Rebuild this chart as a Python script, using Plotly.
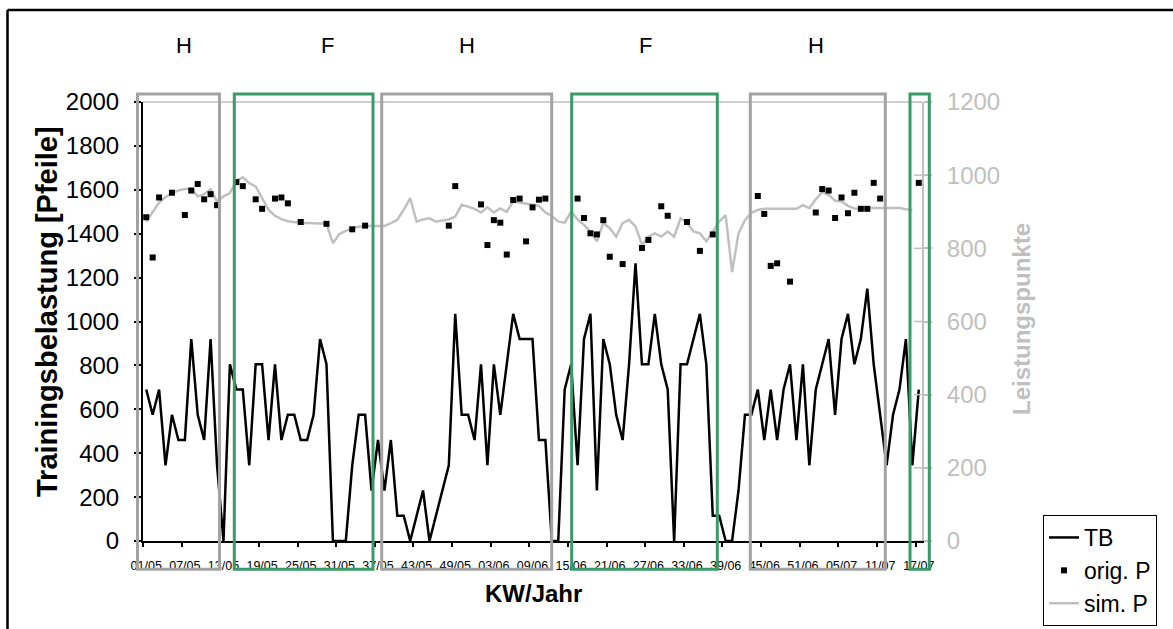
import plotly.graph_objects as go

# ---------------- data ----------------
# calendar weeks KW 01/05 ... 17/07 (121 weeks)
weeks = [f"{w:02d}/05" for w in range(1, 53)] + [f"{w:02d}/06" for w in range(1, 53)] + [f"{w:02d}/07" for w in range(1, 18)]

tick_labels = ["01/05", "07/05", "13/05", "19/05", "25/05", "31/05", "37/05", "43/05",
               "49/05", "03/06", "09/06", "15/06", "21/06", "27/06", "33/06", "39/06",
               "45/06", "51/06", "05/07", "11/07", "17/07"]

# Trainingsbelastung (TB) in Pfeile, one value per week
tb = [690, 575, 690, 345, 575, 460, 460, 920, 575, 460, 920, 345,
      0, 805, 690, 690, 345, 805, 805, 460, 805, 460, 575, 575,
      460, 460, 575, 920, 805, 0, 0, 0, 345, 575, 575, 230,
      460, 230, 460, 115, 115, 0, 115, 230, 0, 115, 230, 345,
      1035, 575, 575, 460, 805, 345, 805, 575, 805, 1035, 920, 920,
      920, 460, 460, 0, 0, 690, 805, 345, 920, 1035, 230, 920,
      805, 575, 460, 805, 1265, 805, 805, 1035, 805, 690, 0, 805,
      805, 920, 1035, 805, 115, 115, 0, 0, 230, 575, 575, 690,
      460, 690, 460, 690, 805, 460, 805, 345, 690, 805, 920, 575,
      920, 1035, 805, 920, 1150, 805, 575, 345, 575, 690, 920, 345,
      690]

# simulated performance (sim. P), Leistungspunkte
sim_p = [873, 900, 925, 940, 951, 958, 962, 962, 942, 948, 962, 928,
         942, 951, 985, 994, 978, 969, 937, 905, 889, 880, 874, 871,
         869, 869, 869, 869, 867, 814, 839, 848, 855, 859, 862, 861,
         861, 861, 869, 878, 905, 937, 873, 879, 882, 873, 876, 879,
         887, 919, 914, 908, 898, 912, 898, 909, 900, 928, 925, 922,
         919, 916, 898, 889, 873, 870, 900, 879, 864, 846, 819, 869,
         855, 832, 869, 878, 860, 810, 832, 841, 832, 846, 832, 882,
         870, 846, 841, 819, 845, 873, 891, 735, 841, 877, 897, 905,
         908, 908, 908, 908, 908, 908, 918, 910, 934, 954, 946, 930,
         928, 916, 909, 908, 910, 910, 910, 910, 910, 910, 907, 905,
         None]

# original performance (orig. P): week index and Leistungspunkte
orig_idx = [0, 1, 2, 4, 6, 7, 8, 9, 10, 11, 14, 15, 17, 18, 20, 21, 22, 24, 28, 32, 34,
            47, 48, 52, 53, 54, 55, 56, 57, 58, 59, 60, 61, 62,
            67, 68, 69, 70, 71, 72, 74, 77, 78, 80, 81, 84, 86, 88,
            95, 96, 97, 98, 100, 104, 105, 106, 107, 108, 109, 110, 111, 112, 113, 114, 120]
orig_val = [885, 775, 939, 952, 891, 958, 976, 934, 948, 918, 981, 970, 934, 908, 936, 939, 923, 872, 867, 852, 862,
            862, 970, 920, 809, 877, 870, 783, 932, 936, 819, 912, 933, 936,
            936, 883, 841, 838, 877, 777, 757, 801, 823, 915, 889, 872, 793, 838,
            943, 894, 752, 759, 709, 898, 962, 958, 883, 939, 896, 952, 908, 908, 979, 936, 979]

# training phases (H / F)
phase_labels = ["H", "F", "H", "F", "H"]

right_ticks = list(range(0, 1201, 200))

# ---------------- layout constants (pixels) ----------------
W, H = 1173, 629
L, R, T, B = 143, 922, 102, 541
FONT = "Liberation Sans, Arial, sans-serif"
GREY_BOX = "#a3a3a3"
GREEN_BOX = "#3a9a68"
LIGHT = "#c0c0c0"


def px(xp):
    return (xp - L) / (R - L)


def py(yp):
    return (B - yp) / (B - T)


x = list(range(len(weeks)))
tick_pos = [weeks.index(t) for t in tick_labels]

fig = go.Figure()
fig.add_trace(go.Scatter(x=x, y=tb, mode="lines", name="TB",
                         line=dict(color="black", width=2.5)))
fig.add_trace(go.Scatter(x=x, y=sim_p, mode="lines", name="sim. P", yaxis="y2",
                         line=dict(color=LIGHT, width=2.5), showlegend=False))
fig.add_trace(go.Scatter(x=orig_idx, y=orig_val, mode="markers", name="orig. P", yaxis="y2",
                         marker=dict(symbol="square", size=6, color="black")))
# legend-only copy so the order is TB, orig. P, sim. P
fig.add_trace(go.Scatter(x=[None], y=[None], mode="lines", name="sim. P", yaxis="y2",
                         line=dict(color=LIGHT, width=2.5)))

shapes = []
# phase boxes (pixel x-edges), top/bottom
boxes = [(137.5, 219.5, GREY_BOX), (234.3, 373.0, GREEN_BOX), (381.7, 551.7, GREY_BOX),
         (571.7, 717.3, GREEN_BOX), (750.3, 885.3, GREY_BOX), (910.0, 929.3, GREEN_BOX)]
for x0, x1, col in boxes:
    shapes.append(dict(type="rect", xref="paper", yref="paper",
                       x0=px(x0), x1=px(x1), y0=py(569.3), y1=py(94),
                       line=dict(color=col, width=3), fillcolor="rgba(0,0,0,0)", layer="above"))
# top border line of plot area
shapes.append(dict(type="line", xref="paper", yref="paper", x0=0, x1=1, y0=1, y1=1,
                   line=dict(color="#a0a0a0", width=1), layer="below"))
# inner part of right-axis cross ticks
for v in right_ticks:
    shapes.append(dict(type="line", xref="paper", yref="y2", x0=px(R - 8), x1=1, y0=v, y1=v,
                       line=dict(color=LIGHT, width=1.5)))
# outer frame (top and left edges)
shapes.append(dict(type="line", xref="paper", yref="paper", x0=px(7.5), x1=px(1200), y0=py(10), y1=py(10),
                   line=dict(color="black", width=2.5)))
shapes.append(dict(type="line", xref="paper", yref="paper", x0=px(7.5), x1=px(7.5), y0=py(10), y1=py(660),
                   line=dict(color="black", width=2.5)))

annotations = []
phase_x = [184, 327, 467, 645, 816]
for lab, xp in zip(phase_labels, phase_x):
    annotations.append(dict(text=lab, xref="paper", yref="paper", x=px(xp), y=py(46),
                            showarrow=False, font=dict(family=FONT, size=22, color="black"),
                            xanchor="center", yanchor="middle"))
annotations.append(dict(text="<b>Trainingsbelastung [Pfeile]</b>", xref="paper", yref="paper",
                        x=px(47), y=py(312), textangle=-90, showarrow=False,
                        font=dict(family=FONT, size=29, color="black"), xanchor="center", yanchor="middle"))
annotations.append(dict(text="<b>Leistungspunkte</b>", xref="paper", yref="paper",
                        x=px(1021), y=py(319), textangle=-90, showarrow=False,
                        font=dict(family=FONT, size=24, color=LIGHT), xanchor="center", yanchor="middle"))
annotations.append(dict(text="<b>KW/Jahr</b>", xref="paper", yref="paper",
                        x=px(533), y=py(593), showarrow=False,
                        font=dict(family=FONT, size=24, color="black"), xanchor="center", yanchor="middle"))

fig.update_layout(
    width=W, height=H, autosize=False,
    margin=dict(l=L, r=W - R, t=T, b=H - B, pad=0, autoexpand=False),
    paper_bgcolor="white", plot_bgcolor="white",
    font=dict(family=FONT, color="black"),
    shapes=shapes, annotations=annotations,
    legend=dict(x=px(1043), y=py(515), xanchor="left", yanchor="top",
                bgcolor="white", bordercolor="black", borderwidth=1,
                font=dict(family=FONT, size=23, color="black"),
                tracegroupgap=0, itemwidth=30),
    xaxis=dict(range=[-0.5, len(weeks) - 0.5], tickmode="array", tickvals=tick_pos, ticktext=tick_labels,
               ticks="", ticklabelstandoff=12, tickfont=dict(family=FONT, size=12.5, color="black"),
               showline=True, linecolor="black", linewidth=2, showgrid=False, zeroline=False,
               minor=dict(tickmode="array", tickvals=[p - 0.5 for p in tick_pos], ticks="outside",
                          ticklen=4, tickwidth=1.5, tickcolor="black", showgrid=False)),
    yaxis=dict(range=[0, 2000], dtick=200, ticks="outside", ticklen=7, tickwidth=1.5, tickcolor="black",
               showline=True, linecolor="black", linewidth=2, showgrid=False, zeroline=False,
               ticklabelstandoff=10, tickfont=dict(family=FONT, size=24, color="black")),
    yaxis2=dict(range=[0, 1200], tickmode="array", tickvals=right_ticks, overlaying="y", side="right",
                ticks="outside", ticklen=8, tickwidth=1.5, tickcolor=LIGHT,
                showline=True, linecolor=LIGHT, linewidth=2, showgrid=False, zeroline=False,
                ticklabelstandoff=10, tickfont=dict(family=FONT, size=24, color=LIGHT)),
)

fig.write_html("out.html", config={"displayModeBar": False},
               post_script="document.body.style.margin='0';")
